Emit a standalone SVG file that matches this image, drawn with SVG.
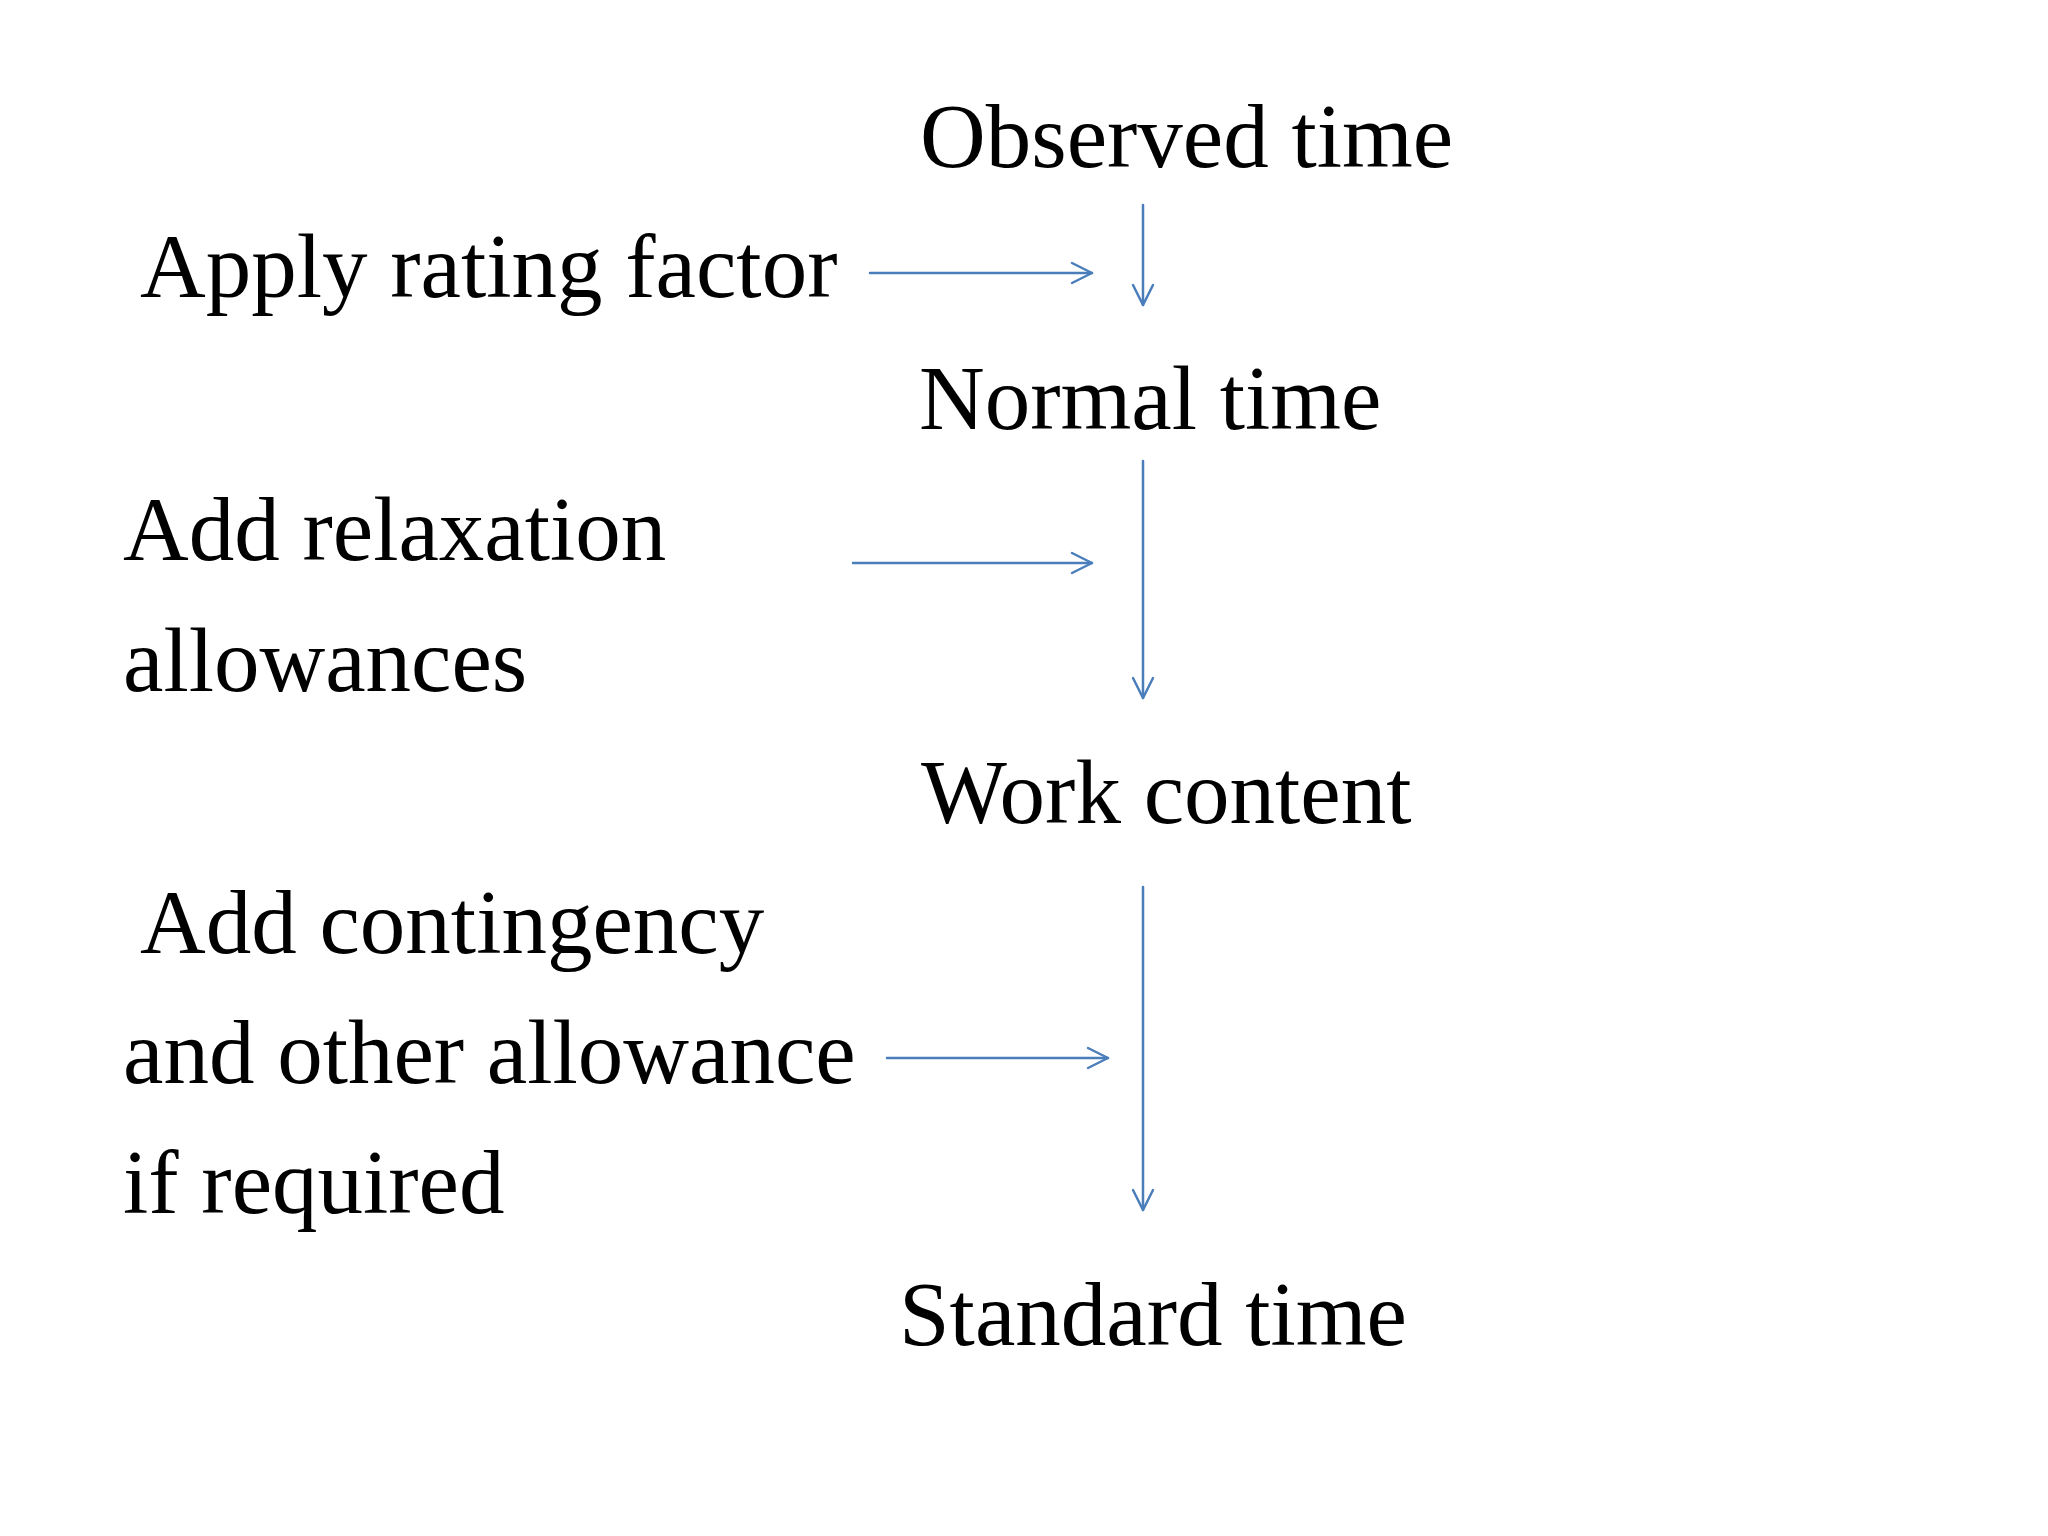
<svg xmlns="http://www.w3.org/2000/svg" width="2048" height="1536" viewBox="0 0 2048 1536">
<style>
.t{font-family:"Liberation Serif","Times New Roman",serif;font-size:91px;fill:#000}
.c{stroke:#4a7ebb;stroke-width:2.5;fill:none;stroke-linecap:round}
</style>
<defs>
<marker id="ah" markerUnits="userSpaceOnUse" markerWidth="30" markerHeight="30" viewBox="-25 -15 30 30" refX="0" refY="0" orient="auto">
<path d="M-20,-10 L0,0 L-20,10" stroke="#4a7ebb" stroke-width="2.5" fill="none" stroke-linecap="round" stroke-linejoin="round"/>
</marker>
</defs>
<rect width="2048" height="1536" fill="#fff"/>
<g id="observed"><text class="t" x="920" y="167">Observed time</text></g>
<g id="normal"><text class="t" x="919" y="429">Normal time</text></g>
<g id="work"><text class="t" x="921" y="823">Work content</text></g>
<g id="standard"><text class="t" x="899" y="1345">Standard time</text></g>
<g id="rating"><text class="t" x="140" y="297">Apply rating factor</text></g>
<g id="relaxation"><text class="t" x="123" y="560">Add relaxation</text><text class="t" x="123" y="691">allowances</text></g>
<g id="contingency"><text class="t" x="140" y="953">Add contingency</text><text class="t" x="123" y="1083">and other allowance</text><text class="t" x="123" y="1213">if required</text></g>
<g id="connectors">
<line class="c" x1="1143" y1="205" x2="1143" y2="305" marker-end="url(#ah)"/>
<line class="c" x1="870" y1="273" x2="1092" y2="273" marker-end="url(#ah)"/>
<line class="c" x1="1143" y1="461" x2="1143" y2="698" marker-end="url(#ah)"/>
<line class="c" x1="853" y1="563" x2="1092" y2="563" marker-end="url(#ah)"/>
<line class="c" x1="1143" y1="887" x2="1143" y2="1210" marker-end="url(#ah)"/>
<line class="c" x1="887" y1="1058" x2="1108" y2="1058" marker-end="url(#ah)"/>
</g>
</svg>
